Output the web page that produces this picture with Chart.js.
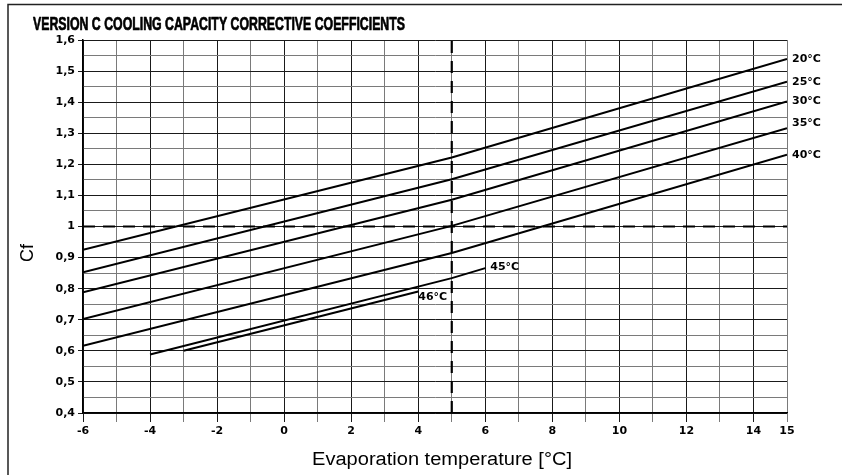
<!DOCTYPE html>
<html>
<head>
<meta charset="utf-8">
<script src="https://cdn.jsdelivr.net/npm/chart.js@4/dist/chart.umd.min.js"></script>
<style>
  html, body { margin: 0; padding: 0; background: #fff; }
  canvas { display: block; }
</style>
</head>
<body>
<canvas id="c" width="842" height="475"></canvas>
<script>
// Texts
const chartTitle = 'VERSION C COOLING CAPACITY CORRECTIVE COEFFICIENTS';
const xAxisTitle = 'Evaporation temperature [°C]';
const yAxisTitle = 'Cf';

// Evaporation temperature break points (°C) and Cf for each condensing temperature
const evapTemps = [-6, 5, 15];
const cf20 = [0.925, 1.222, 1.539];
const cf25 = [0.853, 1.152, 1.466];
const cf30 = [0.788, 1.086, 1.402];
const cf35 = [0.702, 1.002, 1.316];
const cf40 = [0.616, 0.915, 1.231];

const evapTemps45 = [-4, 5, 6];
const cf45 = [0.588, 0.834, 0.866];

const evapTemps46 = [-3, 4];
const cf46 = [0.600, 0.791];

const seriesLabels = ['20°C', '25°C', '30°C', '35°C', '40°C', '45°C', '46°C'];

// Nominal reference point
const refEvapTemp = 5;
const refCf = 1;

// Axis ranges
const xRange = [-6, 15];
const yRange = [0.4, 1.6];

const pts = (xs, ys) => xs.map((x, i) => ({ x: x, y: ys[i] }));

const tickFont = { family: 'DejaVu Sans', weight: 'bold', size: 11 };
const DARK = '#1a1a1a';
const GREY = '#7a7a7a';

const curve = (label, xs, ys, extra) => Object.assign({
  label: label,
  data: pts(xs, ys),
  borderColor: '#000',
  borderWidth: 2,
  pointRadius: 0,
  tension: 0,
  fill: false,
  endLabel: { place: 'right', shift: 0 }
}, extra || {});

const datasets = [
  curve(seriesLabels[0], evapTemps, cf20),
  curve(seriesLabels[1], evapTemps, cf25),
  curve(seriesLabels[2], evapTemps, cf30),
  curve(seriesLabels[3], evapTemps, cf35, { endLabel: { place: 'right', shift: -5 } }),
  curve(seriesLabels[4], evapTemps, cf40),
  curve(seriesLabels[5], evapTemps45, cf45, { endLabel: { place: 'right', shift: -1 } }),
  curve(seriesLabels[6], evapTemps46, cf46, { endLabel: { place: 'below', shift: 0 } }),
  {
    label: 'ref-x',
    data: [{ x: refEvapTemp, y: yRange[0] }, { x: refEvapTemp, y: yRange[1] }],
    borderColor: '#000', borderWidth: 2.2, borderDash: [12, 8],
    pointRadius: 0, fill: false
  },
  {
    label: 'ref-y',
    data: [{ x: xRange[0], y: refCf }, { x: xRange[1], y: refCf }],
    borderColor: '#000', borderWidth: 2.2, borderDash: [12, 8],
    pointRadius: 0, fill: false
  }
];

// Frame, title, axis titles and curve labels
const decorations = {
  id: 'decorations',
  beforeDraw(chart) {
    const ctx = chart.ctx;
    ctx.save();
    ctx.fillStyle = '#fff';
    ctx.fillRect(0, 0, chart.width, chart.height);
    ctx.strokeStyle = '#222';
    ctx.lineWidth = 1.5;
    ctx.strokeRect(8, 4.5, chart.width + 20, chart.height + 20);
    ctx.restore();
  },
  afterDraw(chart) {
    const ctx = chart.ctx;
    ctx.save();
    ctx.fillStyle = '#000';
    ctx.strokeStyle = '#000';
    ctx.textBaseline = 'alphabetic';

    // main title, fitted to its width and slightly heavier
    ctx.font = 'bold 18px "Liberation Sans"';
    let w = ctx.measureText(chartTitle).width;
    ctx.save();
    ctx.translate(33, 30);
    ctx.scale(372 / w, 1);
    ctx.textAlign = 'left';
    ctx.lineWidth = 0.7;
    ctx.lineJoin = 'round';
    ctx.fillText(chartTitle, 0, 0);
    ctx.strokeText(chartTitle, 0, 0);
    ctx.restore();

    // x axis title
    ctx.font = '18px "Liberation Sans"';
    w = ctx.measureText(xAxisTitle).width;
    ctx.save();
    ctx.translate(312, 465);
    ctx.scale(260 / w, 1);
    ctx.textAlign = 'left';
    ctx.fillText(xAxisTitle, 0, 0);
    ctx.restore();

    // y axis title
    ctx.save();
    ctx.translate(33, 253);
    ctx.rotate(-Math.PI / 2);
    ctx.textAlign = 'center';
    ctx.fillText(yAxisTitle, 0, 0);
    ctx.restore();

    // curve labels at the end of each curve
    ctx.font = 'bold 11px "DejaVu Sans"';
    chart.data.datasets.forEach((ds, i) => {
      if (!ds.endLabel) return;
      const meta = chart.getDatasetMeta(i);
      const pt = meta.data[meta.data.length - 1];
      if (ds.endLabel.place === 'below') {
        ctx.textAlign = 'left';
        ctx.textBaseline = 'top';
        ctx.fillText(ds.label, pt.x, pt.y + 0.5);
      } else {
        ctx.textAlign = 'left';
        ctx.textBaseline = 'middle';
        ctx.fillText(ds.label, pt.x + 5, pt.y + ds.endLabel.shift);
      }
    });
    ctx.restore();
  }
};

const isMajorY = v => Math.round(v * 20) % 2 === 0;
const fmtCf = v => {
  const r = Math.round(v * 10) / 10;
  return (Number.isInteger(r) ? String(r) : r.toFixed(1)).replace('.', ',');
};

new Chart(document.getElementById('c'), {
  type: 'line',
  data: { datasets: datasets },
  options: {
    responsive: false,
    animation: false,
    devicePixelRatio: 1,
    layout: { padding: { top: 40, right: 55, left: 0, bottom: 0 } },
    plugins: {
      legend: { display: false },
      tooltip: { enabled: false },
      title: { display: false }
    },
    scales: {
      x: {
        type: 'linear',
        min: xRange[0], max: xRange[1],
        afterFit(scale) { scale.height = 62; },
        ticks: {
          stepSize: 1,
          autoSkip: false,
          maxRotation: 0,
          padding: 3,
          color: '#000',
          font: tickFont,
          callback: v => (v % 2 === 0 || v === xRange[1]) ? String(v) : ''
        },
        grid: {
          tickLength: 9,
          lineWidth: 1,
          color: c => (c.tick && Math.abs(c.tick.value % 2) === 1) ? GREY : DARK,
          tickColor: c => (c.tick && Math.abs(c.tick.value % 2) === 1) ? GREY : DARK
        },
        border: { display: true, color: '#000', width: 1.5 }
      },
      y: {
        type: 'linear',
        min: yRange[0], max: yRange[1],
        afterFit(scale) { scale.width = 83; },
        ticks: {
          stepSize: 0.05,
          autoSkip: false,
          padding: 3,
          color: '#000',
          font: tickFont,
          callback: v => isMajorY(v) ? fmtCf(v) : ''
        },
        grid: {
          tickLength: 5,
          lineWidth: 1,
          color: c => (c.tick && isMajorY(c.tick.value)) ? DARK : GREY,
          tickColor: c => (c.tick && isMajorY(c.tick.value)) ? DARK : 'rgba(0,0,0,0)'
        },
        border: { display: true, color: '#000', width: 1.5 }
      }
    }
  },
  plugins: [decorations]
});
</script>
</body>
</html>
